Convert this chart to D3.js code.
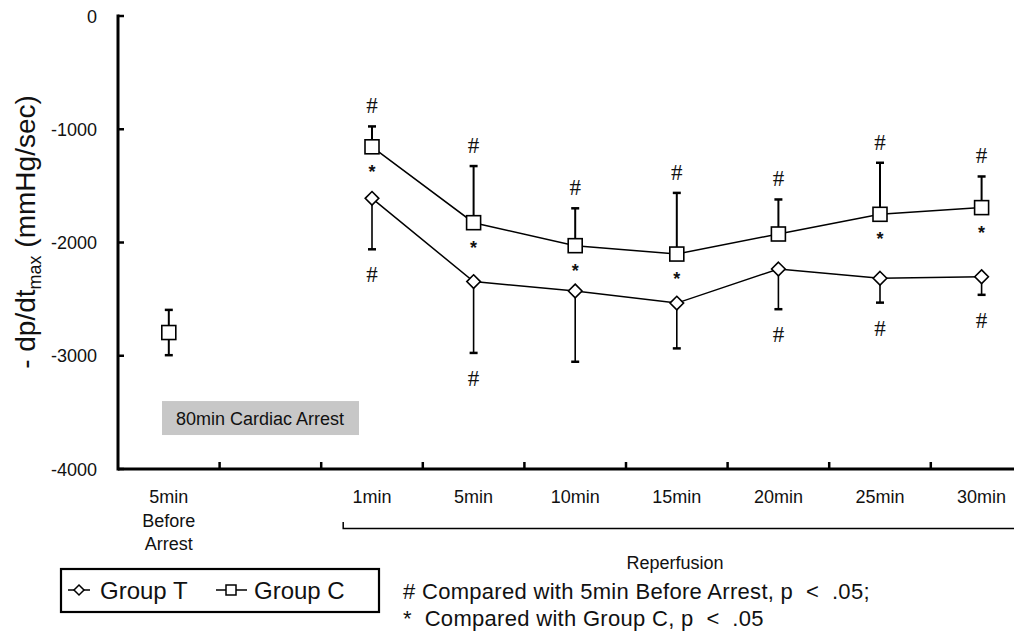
<!DOCTYPE html>
<html>
<head>
<meta charset="utf-8">
<script src="https://cdn.jsdelivr.net/npm/d3@7"></script>
<style>
    body { margin: 0; background: #fff; }
    svg { display: block; font-family: "Liberation Sans", Arial, sans-serif; }
    .tick-label { font-size: 18px; fill: #111; }
</style>
</head>
<body>
<div id="chart"></div>
<script>
// categories along the x axis (second one is an empty gap slot)
var categories = ["5min Before Arrest", "gap", "1min", "5min", "10min", "15min", "20min", "25min", "30min"];
var categoryLines = [["5min", "Before", "Arrest"], [], ["1min"], ["5min"], ["10min"], ["15min"], ["20min"], ["25min"], ["30min"]];

var yTicks = [0, -1000, -2000, -3000, -4000];

// group T (diamond), error bars go down
var groupT = [null, null, -1610, -2345, -2428, -2535, -2234, -2316, -2302];
var groupTsd = [null, null, 450, 630, 625, 400, 355, 215, 160];
var groupThash = [false, false, true, true, false, false, true, true, true];

// group C (square), error bars go up (both ways before arrest)
var groupC = [-2795, null, -1155, -1825, -2028, -2102, -1925, -1751, -1692];
var groupCsd = [200, null, 180, 500, 330, 540, 305, 455, 275];
var groupChash = [false, false, true, true, true, true, true, true, true];
var groupCstar = [false, false, true, true, true, true, false, true, true];

var W = 1014, H = 631;
var svg = d3.select("#chart").append("svg")
    .attr("width", W)
    .attr("height", H);

var x = d3.scaleBand()
    .domain(categories)
    .range([118, 1032.4])
    .padding(0);

var y = d3.scaleLinear()
    .domain([-4000, 0])
    .range([469, 16]);

function cx(i) {
    return x(categories[i]) + x.bandwidth() / 2;
}

// grey annotation box
svg.append("rect")
    .attr("x", 162)
    .attr("y", y(-3400))
    .attr("width", 197)
    .attr("height", y(-3700) - y(-3400))
    .attr("fill", "#c7c7c7");
svg.append("text")
    .attr("x", 260)
    .attr("y", y(-3550) + 6.5)
    .attr("text-anchor", "middle")
    .attr("font-size", 18)
    .attr("fill", "#111")
    .text("80min Cardiac Arrest");

// y axis
var gy = svg.append("g");
gy.append("line")
    .attr("x1", 118).attr("x2", 118)
    .attr("y1", y(0) - 1.5).attr("y2", y(-4000) + 1.5)
    .attr("stroke", "#000").attr("stroke-width", 3);
gy.selectAll(".ytick")
    .data(yTicks)
    .enter()
    .append("line")
    .attr("x1", 118).attr("x2", 124)
    .attr("y1", function (d) { return y(d); })
    .attr("y2", function (d) { return y(d); })
    .attr("stroke", "#000").attr("stroke-width", 2.5);
gy.selectAll(".tick-label")
    .data(yTicks)
    .enter()
    .append("text")
    .attr("class", "tick-label")
    .attr("x", 97)
    .attr("y", function (d) { return y(d) + 6.5; })
    .attr("text-anchor", "end")
    .text(function (d) { return d; });

// y title
var title = svg.append("text")
    .attr("transform", "translate(35,232) rotate(-90)")
    .attr("text-anchor", "middle")
    .attr("font-size", 28)
    .attr("fill", "#111");
title.append("tspan").text("- dp/dt");
title.append("tspan").attr("font-size", 18).attr("dy", 6).text("max");
title.append("tspan").attr("dy", -6).text(" (mmHg/sec)");

// x axis
var gx = svg.append("g");
gx.append("line")
    .attr("x1", 118).attr("x2", 1040)
    .attr("y1", 469).attr("y2", 469)
    .attr("stroke", "#000").attr("stroke-width", 3);
gx.selectAll(".xtick")
    .data(categories.slice(1))
    .enter()
    .append("line")
    .attr("x1", function (d) { return x(d); })
    .attr("x2", function (d) { return x(d); })
    .attr("y1", 469).attr("y2", 462)
    .attr("stroke", "#000").attr("stroke-width", 2.5);

var xl = gx.selectAll(".xlab")
    .data(categoryLines)
    .enter()
    .append("text")
    .attr("class", "tick-label")
    .attr("text-anchor", "middle");
xl.each(function (lines, i) {
    var t = d3.select(this);
    lines.forEach(function (s, k) {
        t.append("tspan")
            .attr("x", cx(i))
            .attr("y", 503 + k * 23.5)
            .text(s);
    });
});

// reperfusion bracket
var bx0 = x("1min") + 22;
svg.append("path")
    .attr("d", "M" + bx0 + ",522V528.5H1020")
    .attr("fill", "none")
    .attr("stroke", "#000")
    .attr("stroke-width", 1.5);
svg.append("text")
    .attr("x", 675)
    .attr("y", 569)
    .attr("text-anchor", "middle")
    .attr("font-size", 18)
    .attr("fill", "#111")
    .text("Reperfusion");

// lines
var line = d3.line()
    .x(function (d) { return cx(d.i); })
    .y(function (d) { return y(d.v); });

function pts(arr, from) {
    return arr.map(function (v, i) { return {i: i, v: v}; }).filter(function (d) { return d.i >= from && d.v !== null; });
}

svg.append("path")
    .datum(pts(groupC, 2))
    .attr("d", line)
    .attr("fill", "none").attr("stroke", "#000").attr("stroke-width", 1.5);
svg.append("path")
    .datum(pts(groupT, 2))
    .attr("d", line)
    .attr("fill", "none").attr("stroke", "#000").attr("stroke-width", 1.5);

// error bars
function errBar(i, from, to, w) {
    svg.append("line")
        .attr("x1", cx(i)).attr("x2", cx(i))
        .attr("y1", y(from)).attr("y2", y(to))
        .attr("stroke", "#000").attr("stroke-width", w);
    svg.append("line")
        .attr("x1", cx(i) - 4).attr("x2", cx(i) + 4)
        .attr("y1", y(to)).attr("y2", y(to))
        .attr("stroke", "#000").attr("stroke-width", 2.5);
}

groupC.forEach(function (v, i) {
    if (v === null) return;
    errBar(i, v, v + groupCsd[i], 2);
    if (i === 0) errBar(i, v, v - groupCsd[i], 2);
});
groupT.forEach(function (v, i) {
    if (v === null) return;
    errBar(i, v, v - groupTsd[i], 1.6);
});

// markers
svg.selectAll(".sq")
    .data(pts(groupC, 0))
    .enter()
    .append("rect")
    .attr("x", function (d) { return cx(d.i) - 7; })
    .attr("y", function (d) { return y(d.v) - 7; })
    .attr("width", 14).attr("height", 14)
    .attr("fill", "#fff").attr("stroke", "#000").attr("stroke-width", 1.6);

svg.selectAll(".dm")
    .data(pts(groupT, 0))
    .enter()
    .append("path")
    .attr("d", function (d) {
        var px = cx(d.i), py = y(d.v), r = 6.8;
        return "M" + px + "," + (py - r) + "L" + (px + r) + "," + py + "L" + px + "," + (py + r) + "L" + (px - r) + "," + py + "Z";
    })
    .attr("fill", "#fff").attr("stroke", "#000").attr("stroke-width", 1.6);

// significance marks
function hash(px, py) {
    svg.append("text")
        .attr("x", px).attr("y", py + 8)
        .attr("text-anchor", "middle")
        .attr("font-family", "Liberation Serif, serif")
        .attr("font-size", 23)
        .attr("fill", "#111")
        .text("#");
}
function star(px, py) {
    svg.append("text")
        .attr("x", px).attr("y", py + 10)
        .attr("text-anchor", "middle")
        .attr("font-weight", "bold")
        .attr("font-size", 18)
        .attr("fill", "#111")
        .text("*");
}
groupC.forEach(function (v, i) {
    if (v === null) return;
    if (groupChash[i]) hash(cx(i), y(v + groupCsd[i]) - 21);
    if (groupCstar[i]) star(cx(i), y(v) + 21);
});
groupT.forEach(function (v, i) {
    if (v === null) return;
    if (groupThash[i]) hash(cx(i), y(v - groupTsd[i]) + 25);
});

// legend
var lg = svg.append("g");
lg.append("rect")
    .attr("x", 61).attr("y", 569)
    .attr("width", 318).attr("height", 43)
    .attr("fill", "#fff").attr("stroke", "#000").attr("stroke-width", 2.2);
lg.append("line").attr("x1", 68).attr("x2", 90).attr("y1", 590).attr("y2", 590)
    .attr("stroke", "#000").attr("stroke-width", 1.5);
lg.append("path")
    .attr("d", "M79,585L84,590L79,595L74,590Z")
    .attr("fill", "#fff").attr("stroke", "#000").attr("stroke-width", 1.5);
lg.append("text").attr("x", 100).attr("y", 599).attr("font-size", 24).attr("fill", "#111").text("Group T");
lg.append("line").attr("x1", 216).attr("x2", 247).attr("y1", 590).attr("y2", 590)
    .attr("stroke", "#000").attr("stroke-width", 1.5);
lg.append("rect")
    .attr("x", 226).attr("y", 585).attr("width", 10).attr("height", 10)
    .attr("fill", "#fff").attr("stroke", "#000").attr("stroke-width", 1.5);
lg.append("text").attr("x", 254).attr("y", 599).attr("font-size", 24).attr("fill", "#111").text("Group C");

// footnotes
svg.append("text").attr("x", 403).attr("y", 599).attr("font-size", 22).attr("fill", "#111")
    .attr("letter-spacing", 0.3)
    .attr("xml:space", "preserve")
    .text("# Compared with 5min Before Arrest, p  <  .05;");
svg.append("text").attr("x", 403).attr("y", 626).attr("font-size", 22).attr("fill", "#111")
    .attr("letter-spacing", 0.3)
    .attr("xml:space", "preserve")
    .text("*  Compared with Group C, p  <  .05");
</script>
</body>
</html>
